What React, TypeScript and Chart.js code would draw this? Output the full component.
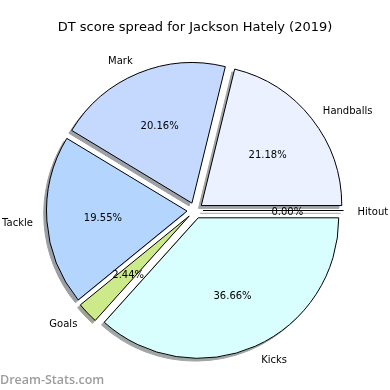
import React, { useEffect, useRef } from 'react';
import { Chart, registerables } from 'chart.js';

Chart.register(...registerables);

const TITLE = 'DT score spread for Jackson Hately (2019)';
const WATERMARK = 'Dream-Stats.com';

// counter-clockwise order starting from east (matplotlib order)
const categories = ['Handballs', 'Mark', 'Tackle', 'Goals', 'Kicks', 'Hitout'];
const dtPoints = [104, 99, 96, 12, 180, 0];
const sliceColors = ['#ebf1fe', '#c5d8fe', '#b4d5fd', '#cdea8b', '#d8fefe', '#ffffff'];

const EXPLODE = 8;
const RADIUS = 140.5;
const SHADOW = 2.8;
const TEXT_DY = 1.5;

// Chart.js draws clockwise, so reverse
const chartLabels = [...categories].reverse();
const chartValues = [...dtPoints].reverse();
const chartColors = [...sliceColors].reverse();
const total = dtPoints.reduce((a, b) => a + b, 0);

function shadowColor(hex: string): string {
  const n = parseInt(hex.slice(1), 16);
  const r = (n >> 16) & 255, g = (n >> 8) & 255, b = n & 255;
  const f = (c: number) => Math.round(255 * 0.5 + c * 0.15);
  return `rgb(${f(r)},${f(g)},${f(b)})`;
}

const FONT = '"DejaVu Sans", sans-serif';

const piePlugin = {
  id: 'mplPie',
  beforeDatasetsDraw(chart: any) {
    const ctx: CanvasRenderingContext2D = chart.ctx;
    const arcs = chart.getDatasetMeta(0).data;
    const geo = arcs.map((arc: any) => {
      const p = arc.getProps(['x', 'y', 'startAngle', 'endAngle', 'outerRadius', 'circumference'], true);
      const mid = (p.startAngle + p.endAngle) / 2;
      return { ...p, mid, dx: EXPLODE * Math.cos(mid), dy: EXPLODE * Math.sin(mid) };
    });
    // shadows
    geo.forEach((g: any, i: number) => {
      const cx = g.x + g.dx - SHADOW;
      const cy = g.y + g.dy + SHADOW;
      const col = shadowColor(chartColors[i]);
      ctx.save();
      ctx.fillStyle = col;
      ctx.strokeStyle = col;
      ctx.lineWidth = 1;
      ctx.beginPath();
      ctx.moveTo(cx, cy);
      if (g.endAngle > g.startAngle) {
        ctx.arc(cx, cy, g.outerRadius, g.startAngle, g.endAngle);
        ctx.closePath();
        ctx.fill();
      } else {
        ctx.lineTo(cx + g.outerRadius * Math.cos(g.startAngle), cy + g.outerRadius * Math.sin(g.startAngle));
      }
      ctx.stroke();
      ctx.restore();
    });
    // wedges
    arcs.forEach((arc: any, i: number) => {
      const g = geo[i];
      ctx.save();
      ctx.translate(g.dx, g.dy);
      if (g.endAngle > g.startAngle) {
        arc.draw(ctx);
      } else {
        ctx.strokeStyle = '#000';
        ctx.lineWidth = 1;
        ctx.beginPath();
        ctx.moveTo(g.x, g.y);
        ctx.lineTo(g.x + g.outerRadius * Math.cos(g.startAngle), g.y + g.outerRadius * Math.sin(g.startAngle));
        ctx.stroke();
      }
      ctx.restore();
    });
    return false;
  },
  afterDraw(chart: any) {
    const ctx: CanvasRenderingContext2D = chart.ctx;
    const arcs = chart.getDatasetMeta(0).data;
    ctx.save();
    arcs.forEach((arc: any, i: number) => {
      const p = arc.getProps(['x', 'y', 'startAngle', 'endAngle', 'outerRadius'], true);
      const mid = (p.startAngle + p.endAngle) / 2;
      const c = Math.cos(mid), s = Math.sin(mid);
      const cx = p.x + EXPLODE * c, cy = p.y + EXPLODE * s;
      // category label
      ctx.font = `10px ${FONT}`;
      ctx.fillStyle = '#000';
      ctx.textBaseline = 'middle';
      const lx = cx + 1.1 * p.outerRadius * c;
      const ly = cy + 1.1 * p.outerRadius * s;
      ctx.textAlign = lx > cx ? 'left' : 'right';
      ctx.fillText(chartLabels[i], lx, ly + TEXT_DY);
      // percentage
      ctx.textAlign = 'center';
      const pct = ((chartValues[i] / total) * 100).toFixed(2) + '%';
      ctx.fillText(pct, cx + 0.6 * p.outerRadius * c, cy + 0.6 * p.outerRadius * s + TEXT_DY);
    });
    // title
    ctx.font = `13px ${FONT}`;
    ctx.textAlign = 'center';
    ctx.textBaseline = 'alphabetic';
    ctx.fillStyle = '#000';
    ctx.fillText(TITLE, 195, 31);
    // watermark
    ctx.font = `600 12.5px "Open Sans", sans-serif`;
    ctx.textAlign = 'left';
    ctx.fillStyle = '#9d9d9d';
    ctx.fillText(WATERMARK, 0, 384);
    ctx.restore();
  },
};

export default function App() {
  const ref = useRef<HTMLCanvasElement>(null);
  useEffect(() => {
    if (!ref.current) return;
    const chart = new Chart(ref.current, {
      type: 'pie',
      data: {
        labels: chartLabels,
        datasets: [
          {
            data: chartValues,
            backgroundColor: chartColors,
            borderColor: '#000',
            borderWidth: 1,
            borderJoinStyle: 'miter',
            radius: RADIUS,
            offset: 0,
            hoverOffset: 0,
          } as any,
        ],
      },
      options: {
        animation: false,
        responsive: false,
        maintainAspectRatio: false,
        devicePixelRatio: 1,
        events: [],
        rotation: 90,
        layout: { padding: { left: 0, right: 0, top: 31, bottom: 0 } },
        plugins: {
          legend: { display: false },
          title: { display: false },
          tooltip: { enabled: false },
        },
      },
      plugins: [piePlugin],
    });
    return () => chart.destroy();
  }, []);
  return (
    <div style={{ position: 'fixed', left: 0, top: 0, width: 390, height: 390, background: '#fff' }}>
      <canvas ref={ref} width={390} height={390} style={{ width: 390, height: 390 }} />
    </div>
  );
}
